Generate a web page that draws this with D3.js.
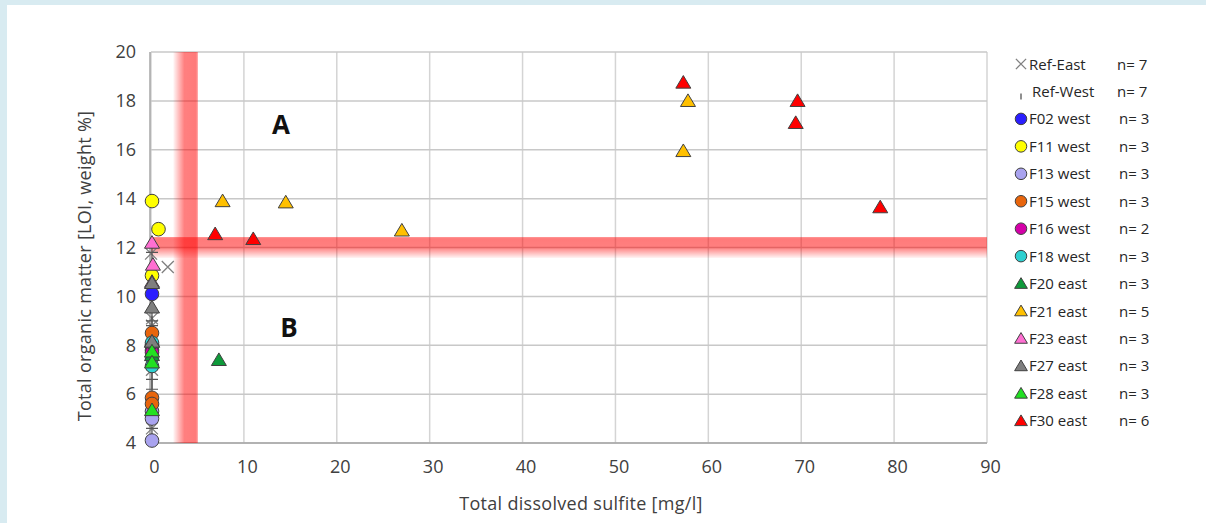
<!DOCTYPE html>
<html>
<head>
<meta charset="utf-8">
<script src="https://cdn.jsdelivr.net/npm/d3@7"></script>
<style>
  html, body { margin: 0; padding: 0; background: #d8ebf1; }
  svg { display: block; }
  text { font-family: "Open Sans", "Liberation Sans", sans-serif; }
</style>
</head>
<body>
<svg id="chart" width="1206" height="523"></svg>
<script>
// series, in legend order: [name, n, shape, fill]
const seriesNames = ['Ref-East', 'Ref-West', 'F02 west', 'F11 west', 'F13 west', 'F15 west', 'F16 west',
    'F18 west', 'F20 east', 'F21 east', 'F23 east', 'F27 east', 'F28 east', 'F30 east'];
const seriesCounts = [7, 7, 3, 3, 3, 3, 2, 3, 3, 5, 3, 3, 3, 6];
const seriesShapes = ['cross', 'tick', 'circle', 'circle', 'circle', 'circle', 'circle',
    'circle', 'triangle', 'triangle', 'triangle', 'triangle', 'triangle', 'triangle'];
const seriesColors = ['#808080', '#606060', '#2a1eff', '#ffff00', '#a9a3ef', '#e8650c', '#d400a8',
    '#2ed0d0', '#0e9a3a', '#ffc000', '#ff6fd2', '#7f7f7f', '#22e022', '#ff0000'];

// [sulfite mg/l, LOI %] per series
const refEast = [[1.7, 11.2], [-0.1, 11.75], [0, 10.2], [0, 9.1], [0, 8.8], [0, 7.0], [0, 4.6]];
const refWest = [[0, 11.8], [0, 9.0], [0, 8.8], [0, 7.0], [0, 6.6], [0, 6.2], [0, 4.6]];
const f02 = [[0, 10.1], [0, 8.0], [0, 7.8]];
const f11 = [[0, 13.9], [0.7, 12.75], [0, 10.85]];
const f13 = [[0, 5.3], [0, 5.0], [0, 4.1]];
const f15 = [[0, 8.5], [0, 5.85], [0, 5.6]];
const f16 = [[0, 8.0], [0, 7.7]];
const f18 = [[0, 8.1], [0, 7.5], [0, 7.15]];
const f20 = [[7.2, 7.4], [0, 8.15], [0, 7.6]];
const f21 = [[57.7, 18.0], [57.2, 15.95], [7.6, 13.9], [14.4, 13.85], [26.9, 12.7]];
const f23 = [[0, 12.2], [0.1, 11.3], [0, 10.6]];
const f27 = [[0, 10.55], [0, 9.55], [0, 8.15]];
const f28 = [[0, 7.75], [0, 7.3], [0, 5.35]];
const f30 = [[57.2, 18.75], [69.5, 18.0], [69.3, 17.1], [78.4, 13.65], [6.8, 12.55], [10.9, 12.35]];
const seriesData = [refEast, refWest, f02, f11, f13, f15, f16, f18, f20, f21, f23, f27, f28, f30];

const xTicks = [0, 10, 20, 30, 40, 50, 60, 70, 80, 90];
const yTicks = [4, 6, 8, 10, 12, 14, 16, 18, 20];

// threshold bands (data units)
const sulfiteBand = [2.4, 5.05];
const loiBand = [11.57, 12.43];

const svg = d3.select('#chart');
svg.append('rect').attr('x', 7).attr('y', 5).attr('width', 1199).attr('height', 518).attr('fill', '#fff');

const x = d3.scaleLinear().domain([0, 90]).range([151, 987]);
const y = d3.scaleLinear().domain([4, 20]).range([443, 52]);

const defs = svg.append('defs');
const vGrad = defs.append('linearGradient').attr('id', 'vband').attr('x1', 0).attr('x2', 1).attr('y1', 0).attr('y2', 0);
vGrad.append('stop').attr('offset', '0%').attr('stop-color', '#ff0000').attr('stop-opacity', 0.03);
vGrad.append('stop').attr('offset', '45%').attr('stop-color', '#ff0000').attr('stop-opacity', 0.5);
vGrad.append('stop').attr('offset', '92%').attr('stop-color', '#ff0000').attr('stop-opacity', 0.52);
vGrad.append('stop').attr('offset', '100%').attr('stop-color', '#ff0000').attr('stop-opacity', 0.35);
const hGrad = defs.append('linearGradient').attr('id', 'hband').attr('x1', 0).attr('x2', 0).attr('y1', 0).attr('y2', 1);
hGrad.append('stop').attr('offset', '0%').attr('stop-color', '#ff0000').attr('stop-opacity', 0.4);
hGrad.append('stop').attr('offset', '8%').attr('stop-color', '#ff0000').attr('stop-opacity', 0.52);
hGrad.append('stop').attr('offset', '50%').attr('stop-color', '#ff0000').attr('stop-opacity', 0.5);
hGrad.append('stop').attr('offset', '100%').attr('stop-color', '#ff0000').attr('stop-opacity', 0.04);

// grid
const grid = svg.append('g');
grid.selectAll('line.gx').data(xTicks).enter().append('line')
    .attr('x1', d => x(d)).attr('x2', d => x(d)).attr('y1', y(20)).attr('y2', y(4))
    .attr('stroke', '#d4d4d4').attr('stroke-width', 1.5);
grid.selectAll('line.gy').data(yTicks).enter().append('line')
    .attr('x1', x(0)).attr('x2', x(90)).attr('y1', d => y(d)).attr('y2', d => y(d))
    .attr('stroke', '#c8c8c8').attr('stroke-width', 1.5);
// plot frame
svg.append('line').attr('x1', x(0) - 1).attr('x2', x(0) - 1).attr('y1', y(20)).attr('y2', y(4))
    .attr('stroke', '#a6a6a6').attr('stroke-width', 1.5);
svg.append('line').attr('x1', x(0) - 1).attr('x2', x(90)).attr('y1', y(4)).attr('y2', y(4))
    .attr('stroke', '#a6a6a6').attr('stroke-width', 1.5);

// bands
svg.append('rect')
    .attr('x', x(sulfiteBand[0])).attr('width', x(sulfiteBand[1]) - x(sulfiteBand[0]))
    .attr('y', y(20)).attr('height', y(4) - y(20)).attr('fill', 'url(#vband)');
svg.append('rect')
    .attr('x', x(0)).attr('width', x(90) - x(0))
    .attr('y', y(loiBand[1])).attr('height', y(loiBand[0]) - y(loiBand[1])).attr('fill', 'url(#hband)');

// axes tick labels
const tickFont = '"Open Sans", "Liberation Sans", sans-serif';
const yAxis = d3.axisLeft(y).tickValues(yTicks).tickSize(0).tickPadding(15);
svg.append('g').attr('transform', `translate(${x(0)},0)`).call(yAxis)
    .call(g => g.select('.domain').remove())
    .selectAll('text').attr('font-size', 18).attr('fill', '#404040').style('font-family', tickFont);
const xAxis = d3.axisBottom(x).tickValues(xTicks).tickSize(0).tickPadding(17);
svg.append('g').attr('transform', `translate(3,${y(4)})`).call(xAxis)
    .call(g => g.select('.domain').remove())
    .selectAll('text').attr('font-size', 18).attr('fill', '#404040').style('font-family', tickFont);

// axis titles
svg.append('text').attr('x', 581).attr('y', 510).attr('text-anchor', 'middle')
    .attr('font-size', 18).attr('letter-spacing', 0.3).attr('fill', '#404040').text('Total dissolved sulfite  [mg/l]');
svg.append('text').attr('transform', 'translate(91,266) rotate(-90)').attr('text-anchor', 'middle')
    .attr('font-size', 18).attr('letter-spacing', 0.3).attr('fill', '#404040').text('Total organic matter  [LOI, weight %]');

// region labels
svg.append('text').attr('x', 281).attr('y', 134).attr('text-anchor', 'middle')
    .attr('font-size', 26).attr('font-weight', 'bold').attr('fill', '#111').text('A');
svg.append('text').attr('x', 289).attr('y', 337).attr('text-anchor', 'middle')
    .attr('font-size', 26).attr('font-weight', 'bold').attr('fill', '#111').text('B');

function drawMarker(g, shape, color, scale) {
    const s = scale || 1;
    if (shape === 'circle') {
        g.append('circle').attr('r', 6.8 * s).attr('fill', color).attr('stroke', '#404040').attr('stroke-width', 1);
    } else if (shape === 'triangle') {
        const h = 7 * s, w = 7.5 * s;
        g.append('path').attr('d', `M0,${-h}L${w},${h * 0.8}L${-w},${h * 0.8}Z`)
            .attr('fill', color).attr('stroke', '#404040').attr('stroke-width', 1);
    } else if (shape === 'cross') {
        const r = 6 * s;
        g.append('path').attr('d', `M${-r},${-r}L${r},${r}M${-r},${r}L${r},${-r}`)
            .attr('stroke', color).attr('stroke-width', 1.3).attr('fill', 'none');
    } else {
        g.append('path').attr('d', 'M0,-3L0,3').attr('stroke', color).attr('stroke-width', 1.4);
    }
}

// points
const pts = svg.append('g');
seriesData.forEach((data, i) => {
    data.forEach(d => {
        const g = pts.append('g').attr('transform', `translate(${x(d[0]) + 1},${y(d[1])})`);
        if (seriesShapes[i] === 'tick') {
            g.append('path').attr('d', 'M0,-10L0,10M-6,0L6,0').attr('stroke', '#555').attr('stroke-width', 1.2);
        } else {
            drawMarker(g, seriesShapes[i], seriesColors[i]);
        }
    });
});

// legend
const legend = svg.append('g');
seriesNames.forEach((name, i) => {
    const ly = 64 + i * 27.45;
    const g = legend.append('g').attr('transform', `translate(1021,${ly})`);
    drawMarker(g, seriesShapes[i], seriesColors[i], seriesShapes[i] === 'tick' ? 0.7 : 0.85);
    if (seriesShapes[i] === 'tick') g.select('path').attr('transform', 'translate(0,5)');
    legend.append('text').attr('x', i === 1 ? 1032 : 1029).attr('y', ly + 5.5).attr('font-size', 15)
        .attr('fill', '#262626').text(name);
    legend.append('text').attr('x', i < 2 ? 1117 : 1119).attr('y', ly + 5.5).attr('font-size', 15)
        .attr('fill', '#262626').text('n= ' + seriesCounts[i]);
});
</script>
</body>
</html>
